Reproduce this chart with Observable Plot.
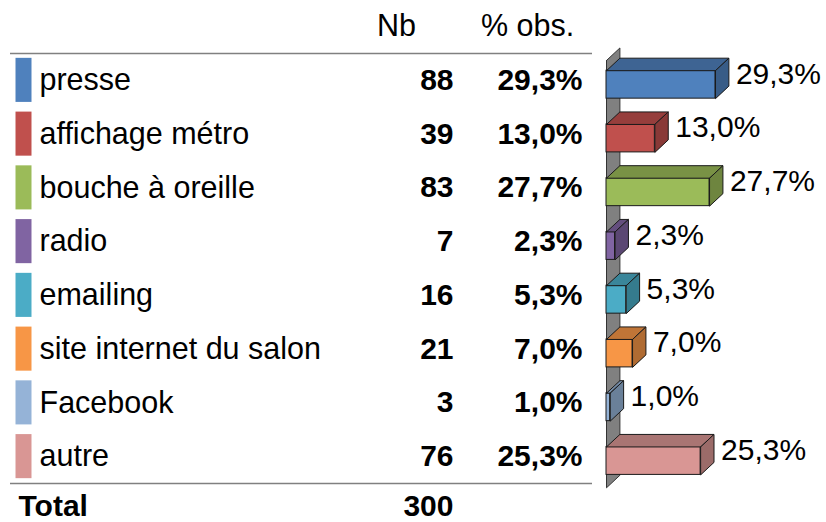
<!DOCTYPE html>
<html>
<head>
<meta charset="utf-8">
<script src="https://cdn.jsdelivr.net/npm/d3@7"></script>
<script src="https://cdn.jsdelivr.net/npm/@observablehq/plot@0.6"></script>
<style>
  html, body { margin: 0; padding: 0; background: #fff; }
  #chart svg { display: block; }
</style>
</head>
<body>
<div id="chart"></div>
<script>
// ---- data ----
const categories = ["presse", "affichage métro", "bouche à oreille", "radio", "emailing", "site internet du salon", "Facebook", "autre"];
const counts = [88, 39, 83, 7, 16, 21, 3, 76];
const percents = [29.3, 13.0, 27.7, 2.3, 5.3, 7.0, 1.0, 25.3];
const colors = ["#4F81BD", "#C0504D", "#9BBB59", "#8064A2", "#4BACC6", "#F79646", "#95B3D7", "#D99694"];
const headers = ["Nb", "% obs."];
const totalLabel = "Total";
const totalCount = 300;

const fmtPct = v => v.toFixed(1).replace(".", ",") + "%";

const rows = categories.map((c, i) => ({
  i, label: c, n: counts[i], v: percents[i], color: colors[i]
}));

// 3D depth in data units (x: percent, y: row)
const DX = 3.6, DY = 0.233;
const FT = -0.18, FB = 0.34;

const faces = [];
rows.forEach(r => {
  const y1 = r.i + FT, y2 = r.i + FB, v = r.v;
  const top = d3.color(r.color).darker(0.7).formatHex();
  const side = d3.color(r.color).darker(0.95).formatHex();
  [[0, y1], [v, y1], [v + DX, y1 - DY], [DX, y1 - DY], [0, y1]]
    .forEach(([x, y]) => faces.push({id: "t" + r.i, x, y, fill: top}));
  [[v, y1], [v + DX, y1 - DY], [v + DX, y2 - DY], [v, y2], [v, y1]]
    .forEach(([x, y]) => faces.push({id: "s" + r.i, x, y, fill: side}));
});

const wallTop = -0.37, wallBottom = 7.58;
const wall = [[0, wallTop], [DX, wallTop - DY], [DX, wallBottom - DY], [0, wallBottom], [0, wallTop]]
  .map(([x, y]) => ({x, y}));

const ML = 606, MR = 34;
const FS = 30;
const FSL = 30.5;
const font = "'Liberation Sans', Arial, sans-serif";

const chart = Plot.plot({
  width: 826,
  height: 522,
  marginLeft: ML,
  marginRight: MR,
  marginTop: 53,
  marginBottom: 39,
  style: {fontFamily: font, background: "#fff", overflow: "visible"},
  x: {domain: [0, 50], axis: null},
  y: {domain: [-0.5, 7.5], range: [53, 483], axis: null},
  color: {type: "identity"},
  marks: [
    // table rules
    Plot.ruleY([-0.5, 7.5], {stroke: "#808080", strokeWidth: 1.5, insetLeft: 10 - ML, insetRight: (826 - MR) - 592}),
    // swatches
    Plot.ruleX(rows, {x: 0, y1: d => d.i - 0.41, y2: d => d.i + 0.41, stroke: "color", strokeWidth: 16, dx: 23 - ML}),
    // headers
    Plot.text([headers[0]], {text: d => d, y: -1, frameAnchor: "left", dx: 396 - ML, textAnchor: "middle", fontSize: FSL, fill: "#000"}),
    Plot.text([headers[1]], {text: d => d, y: -1, frameAnchor: "left", dx: 527 - ML, textAnchor: "middle", fontSize: FSL, fill: "#000"}),
    // labels
    Plot.text(rows, {text: "label", y: "i", frameAnchor: "left", dx: 39 - ML, textAnchor: "start", fontSize: FSL, fill: "#000"}),
    Plot.text(rows, {text: d => String(d.n), y: "i", frameAnchor: "left", dx: 453 - ML, textAnchor: "end", fontSize: FS, fontWeight: "bold", fill: "#000"}),
    Plot.text(rows, {text: d => fmtPct(d.v), y: "i", frameAnchor: "left", dx: 582 - ML, textAnchor: "end", fontSize: FS, fontWeight: "bold", fill: "#000"}),
    // total
    Plot.text([totalLabel], {text: d => d, y: 7.93, frameAnchor: "left", dx: 18 - ML, textAnchor: "start", fontSize: FS, fontWeight: "bold", fill: "#000"}),
    Plot.text([totalCount], {text: d => String(d), y: 7.93, frameAnchor: "left", dx: 453 - ML, textAnchor: "end", fontSize: FS, fontWeight: "bold", fill: "#000"}),
    // wall
    Plot.line(wall, {x: "x", y: "y", fill: "#808080", stroke: "#333", strokeWidth: 1, curve: "linear"}),
    // bars front
    Plot.rect(rows, {x1: 0, x2: "v", y1: d => d.i + FT, y2: d => d.i + FB, fill: "color", stroke: "#1a1a1a", strokeWidth: 1}),
    // top & side faces
    Plot.line(faces, {x: "x", y: "y", z: "id", fill: "fill", stroke: "#1a1a1a", strokeWidth: 1, curve: "linear"}),
    // value labels
    Plot.text(rows, {text: d => fmtPct(d.v), x: d => d.v + DX, y: d => d.i - 0.12, dx: 7, textAnchor: "start", fontSize: FS, fill: "#000"})
  ]
});
document.getElementById("chart").appendChild(chart);
</script>
</body>
</html>
